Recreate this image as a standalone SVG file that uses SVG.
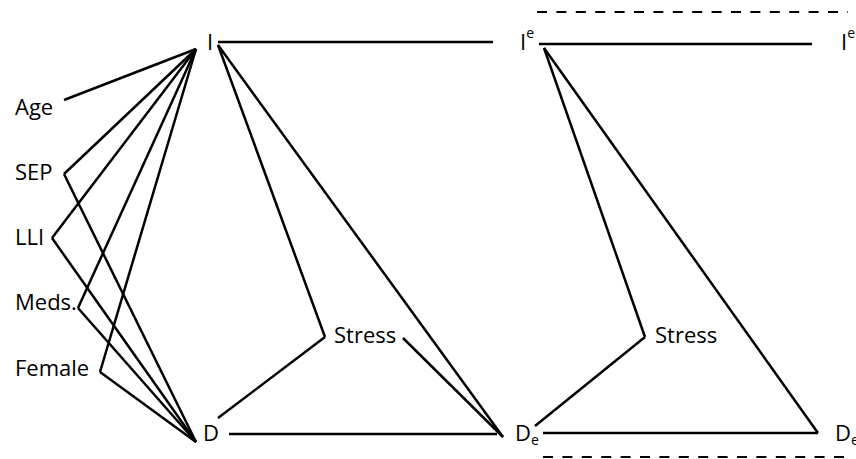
<svg xmlns="http://www.w3.org/2000/svg" width="856" height="459" viewBox="0 0 856 459">
<style>
text{font-family:"Open Sans","Liberation Sans",sans-serif;font-size:22px;fill:#000}
.sm{font-size:14px}
#edges line{stroke:#000;stroke-width:2.5;stroke-linecap:butt}
#edges .dash{stroke-width:2.2;stroke-dasharray:10 9.4}
</style>
<rect width="856" height="459" fill="#fff"/>
<g id="edges">
<line x1="64" y1="100" x2="196" y2="49"/>
<line x1="64" y1="174" x2="196" y2="49"/>
<line x1="64" y1="174" x2="196" y2="442"/>
<line x1="52" y1="238" x2="196" y2="49"/>
<line x1="52" y1="238" x2="196" y2="442"/>
<line x1="78" y1="308" x2="196" y2="49"/>
<line x1="78" y1="308" x2="196" y2="442"/>
<line x1="100" y1="372" x2="196" y2="49"/>
<line x1="100" y1="372" x2="196" y2="442"/>
<line x1="218" y1="42" x2="493" y2="42"/>
<line x1="218" y1="45" x2="325" y2="337"/>
<line x1="218" y1="45" x2="503" y2="437"/>
<line x1="325" y1="337" x2="218" y2="418"/>
<line x1="403" y1="338" x2="503" y2="437"/>
<line x1="229" y1="434" x2="497" y2="434"/>
<line x1="539" y1="44" x2="812" y2="44"/>
<line x1="544" y1="48" x2="645" y2="337"/>
<line x1="544" y1="48" x2="818" y2="433"/>
<line x1="645" y1="337" x2="535" y2="426"/>
<line x1="543" y1="433" x2="818" y2="433"/>
<line class="dash" x1="537" y1="12" x2="848" y2="12"/>
<line class="dash" x1="543" y1="457" x2="853" y2="457"/>
</g>
<g id="age"><text x="15" y="115">Age</text></g>
<g id="sep"><text x="15" y="180">SEP</text></g>
<g id="lli"><text x="15" y="245">LLI</text></g>
<g id="meds"><text x="15" y="310">Meds.</text></g>
<g id="female"><text x="15" y="376">Female</text></g>
<g id="i"><text x="207" y="50">I</text></g>
<g id="d"><text x="203" y="441">D</text></g>
<g id="stress1"><text x="334" y="343">Stress</text></g>
<g id="ie"><text x="520" y="50">I<tspan class="sm" dy="-12">e</tspan></text></g>
<g id="de"><text x="515" y="441">D<tspan class="sm" dy="4">e</tspan></text></g>
<g id="stress2"><text x="655" y="343">Stress</text></g>
<g id="ie2"><text x="841" y="50">I<tspan class="sm" dy="-12">e</tspan></text></g>
<g id="de2"><text x="835" y="441">D<tspan class="sm" dy="4">e</tspan></text></g>
</svg>
